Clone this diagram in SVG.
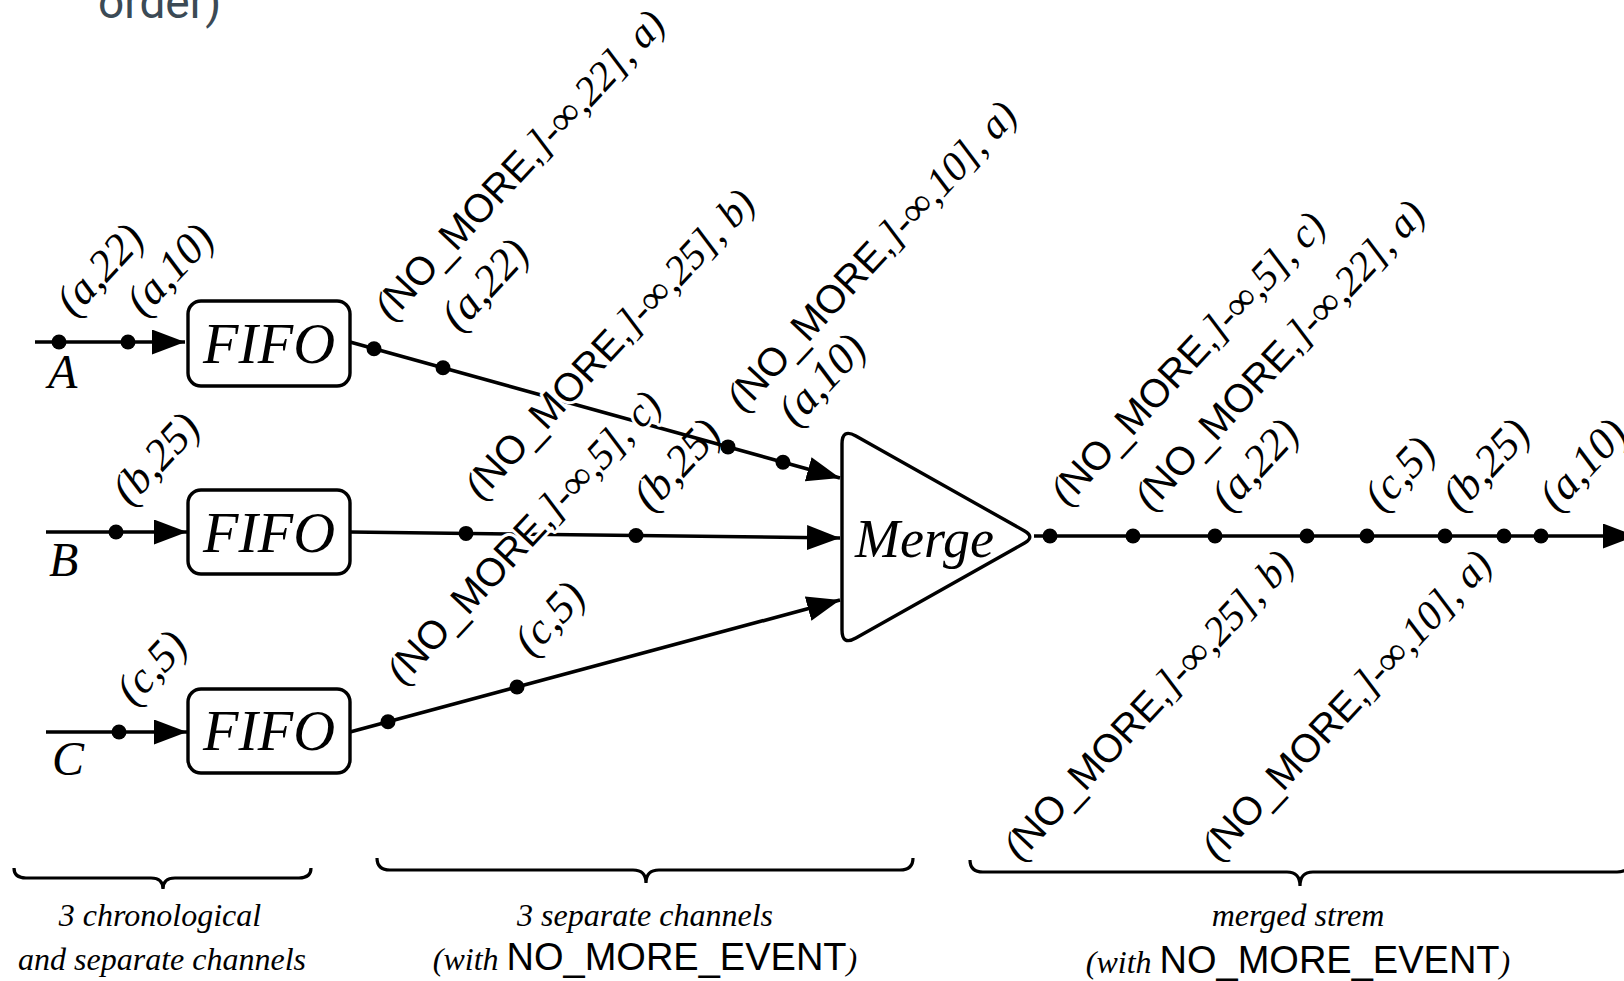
<svg xmlns="http://www.w3.org/2000/svg" width="1624" height="981" viewBox="0 0 1624 981">
<style>
.ln{stroke:#000;stroke-width:3.6;fill:none}
.arr{marker-end:url(#ah)}
.box{fill:#fff;stroke:#000;stroke-width:3.4}
.dot{fill:#000}
.m{font-family:"Liberation Serif","DejaVu Serif",serif;font-style:italic}
.s{font-family:"Liberation Sans",Arial,sans-serif;font-style:normal}
.lbl{font-size:41px;fill:#000}
.lbl .s{font-size:39.5px}
.sh{font-size:44px}
.halo{stroke:#fff;stroke-width:6;paint-order:stroke;stroke-linejoin:round}
.big{font-family:"Liberation Serif","DejaVu Serif",serif;font-style:italic;fill:#000}
.cap{font-family:"Liberation Serif","DejaVu Serif",serif;font-style:italic;font-size:32px;fill:#000;text-anchor:middle}
.cap .s{font-size:38px}
.brace{stroke:#000;stroke-width:3.2;fill:none}
</style>
<defs>
<marker id="ah" markerUnits="userSpaceOnUse" markerWidth="34" markerHeight="26" refX="33" refY="12.5" orient="auto">
<path d="M0,0 L33,12.5 L0,25 Z" fill="#000"/>
</marker>
</defs>

<text x="98" y="18" font-family="Roboto,'Liberation Sans',sans-serif" font-size="46" fill="#3b4a55">order)</text>

<g id="connectors">
<line class="ln arr" x1="35" y1="342" x2="185" y2="342"/>
<line class="ln arr" x1="46" y1="532" x2="187" y2="532"/>
<line class="ln arr" x1="46" y1="732" x2="187" y2="732"/>
<line class="ln arr" x1="350" y1="342" x2="840" y2="478"/>
<line class="ln arr" x1="350" y1="532" x2="840" y2="538"/>
<line class="ln arr" x1="350" y1="732" x2="840" y2="600"/>
<line class="ln arr" x1="1034" y1="536" x2="1636" y2="536"/>
</g>

<g id="events">
<circle class="dot" cx="59" cy="342" r="7.5"/>
<circle class="dot" cx="128" cy="342" r="7.5"/>
<circle class="dot" cx="116" cy="532" r="7.5"/>
<circle class="dot" cx="119" cy="732" r="7.5"/>
<circle class="dot" cx="374" cy="348.7" r="7.5"/>
<circle class="dot" cx="443" cy="367.8" r="7.5"/>
<circle class="dot" cx="728" cy="446.9" r="7.5"/>
<circle class="dot" cx="783" cy="462.2" r="7.5"/>
<circle class="dot" cx="466" cy="533.4" r="7.5"/>
<circle class="dot" cx="636" cy="535.5" r="7.5"/>
<circle class="dot" cx="388" cy="721.8" r="7.5"/>
<circle class="dot" cx="517" cy="687" r="7.5"/>
<circle class="dot" cx="1050" cy="536" r="7.5"/>
<circle class="dot" cx="1133" cy="536" r="7.5"/>
<circle class="dot" cx="1215" cy="536" r="7.5"/>
<circle class="dot" cx="1307" cy="536" r="7.5"/>
<circle class="dot" cx="1367" cy="536" r="7.5"/>
<circle class="dot" cx="1445" cy="536" r="7.5"/>
<circle class="dot" cx="1504" cy="536" r="7.5"/>
<circle class="dot" cx="1541" cy="536" r="7.5"/>
</g>

<g id="labels">
<text class="lbl m sh" transform="translate(74,318) rotate(-47)">(a,22)</text>
<text class="lbl m sh" transform="translate(144,318) rotate(-47)">(a,10)</text>
<text class="lbl m sh" transform="translate(130,507) rotate(-47)">(b,25)</text>
<text class="lbl m sh" transform="translate(134,707) rotate(-47)">(c,5)</text>

<text class="lbl m" transform="translate(391,322) rotate(-47)">(<tspan class="s">NO_MORE,</tspan>]-∞,22], a)</text>
<text class="lbl m sh" transform="translate(459,333) rotate(-47)">(a,22)</text>
<text class="lbl m halo" transform="translate(481,501) rotate(-47)">(<tspan class="s">NO_MORE,</tspan>]-∞,25], b)</text>
<text class="lbl m halo" transform="translate(403,686) rotate(-47)">(<tspan class="s">NO_MORE,</tspan>]-∞,5], c)</text>
<text class="lbl m sh" transform="translate(651,513) rotate(-47)">(b,25)</text>
<text class="lbl m" transform="translate(743,413) rotate(-47)">(<tspan class="s">NO_MORE,</tspan>]-∞,10], a)</text>
<text class="lbl m sh" transform="translate(796,428) rotate(-47)">(a,10)</text>
<text class="lbl m sh" transform="translate(532,658) rotate(-47)">(c,5)</text>

<text class="lbl m" transform="translate(1067,507) rotate(-47)">(<tspan class="s">NO_MORE,</tspan>]-∞,5], c)</text>
<text class="lbl m" transform="translate(1151,512) rotate(-47)">(<tspan class="s">NO_MORE,</tspan>]-∞,22], a)</text>
<text class="lbl m sh" transform="translate(1229,513) rotate(-47)">(a,22)</text>
<text class="lbl m sh" transform="translate(1382,513) rotate(-47)">(c,5)</text>
<text class="lbl m sh" transform="translate(1460,513) rotate(-47)">(b,25)</text>
<text class="lbl m sh" transform="translate(1557,513) rotate(-47)">(a,10)</text>

<text class="lbl m" transform="translate(1020,862) rotate(-47)">(<tspan class="s">NO_MORE,</tspan>]-∞,25], b)</text>
<text class="lbl m" transform="translate(1218,862) rotate(-47)">(<tspan class="s">NO_MORE,</tspan>]-∞,10], a)</text>
</g>

<g id="input-A">
<text class="big" x="48" y="388" font-size="48">A</text>
</g>
<g id="input-B">
<text class="big" x="49" y="576" font-size="48">B</text>
</g>
<g id="input-C">
<text class="big" x="52" y="775" font-size="48">C</text>
</g>

<g id="fifo-A">
<rect class="box" x="188" y="301" width="162" height="85" rx="13"/>
<text class="big" x="269" y="363" font-size="58" text-anchor="middle">FIFO</text>
</g>
<g id="fifo-B">
<rect class="box" x="188" y="490" width="162" height="84" rx="13"/>
<text class="big" x="269" y="552" font-size="58" text-anchor="middle">FIFO</text>
</g>
<g id="fifo-C">
<rect class="box" x="188" y="689" width="162" height="84" rx="13"/>
<text class="big" x="269" y="750" font-size="58" text-anchor="middle">FIFO</text>
</g>

<g id="merge">
<path class="box" d="M855.9,436 L1024.6,531 Q1035,537 1024.6,543 L855.9,638 Q842,646 842,630 L842,444 Q842,428 855.9,436 Z"/>
<text class="big" x="855" y="557" font-size="54">Merge</text>
</g>

<g id="braces">
<path class="brace" d="M14,868 Q14,878 26,878 L151,878 Q163,878 163,889 Q163,878 175,878 L299,878 Q311,878 311,868"/>
<path class="brace" d="M377,858 Q377,870 390,870 L633,870 Q646,870 646,883 Q646,870 659,870 L900,870 Q913,870 913,858"/>
<path class="brace" d="M970,860 Q970,872 983,872 L1287,872 Q1300,872 1300,886 Q1300,872 1313,872 L1617,872 Q1630,872 1630,860"/>
</g>

<g id="captions">
<text class="cap" x="160" y="926">3 chronological</text>
<text class="cap" x="162" y="970">and separate channels</text>
<text class="cap" x="645" y="926">3 separate channels</text>
<text class="cap" x="645" y="970">(with <tspan class="s">NO_MORE_EVENT</tspan>)</text>
<text class="cap" x="1298" y="926">merged strem</text>
<text class="cap" x="1298" y="973">(with <tspan class="s">NO_MORE_EVENT</tspan>)</text>
</g>
</svg>
